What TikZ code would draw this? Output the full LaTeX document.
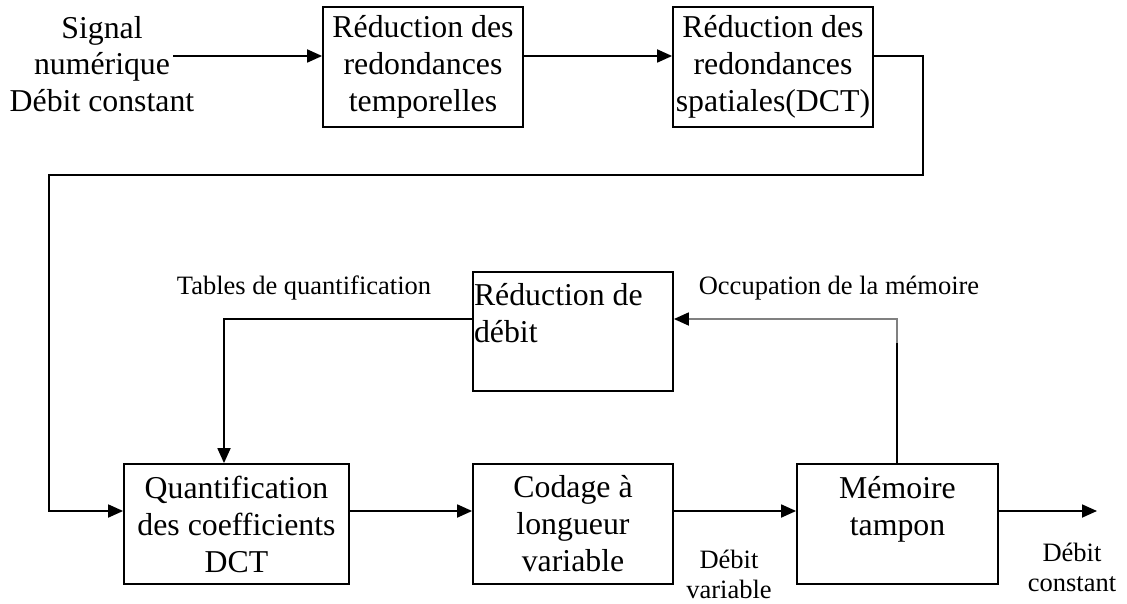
\documentclass[tikz,border=0pt]{standalone}
\usepackage{fontspec}
\setmainfont{Liberation Serif}
\usetikzlibrary{arrows.meta,calc}
\tikzset{
  blk/.style={draw, line width=1.8pt, align=center, inner sep=1pt,
    minimum width=200pt, minimum height=120pt,
    font=\fontsize{31.8}{37}\selectfont},
  txt/.style={align=center, inner sep=0pt, font=\fontsize{31.8}{36.5}\selectfont},
  lbl/.style={align=center, inner sep=0pt, font=\fontsize{26.5}{30}\selectfont},
  flow/.style={line width=1.8pt, -{Triangle[length=15pt,width=13pt,black]}},
  wire/.style={line width=2pt},
  faint/.style={draw=black!50}
}
\begin{document}
\begin{tikzpicture}[x=1pt,y=-1pt]
\useasboundingbox (0,0) rectangle (1127,604);

% input signal
\node[txt] (sig) at (102,64) {Signal\\numérique\\Débit constant};
\coordinate (sigout) at (173,56);

% upper chain
\node[blk] (tmp) at (423,67) {Réduction des\\redondances\\temporelles};
\node[blk] (spa) at (773,67) {Réduction des\\redondances\\spatiales(DCT)};

% lower chain
\node[blk, minimum width=225pt] (qnt) at (236.5,524)
  {Quantification\\des coefficients\\DCT};
\node[blk] (vlc) at (573,524) {Codage à\\longueur\\variable};
\node[blk, minimum width=201pt] (mem) at (897.5,524) {Mémoire\\tampon\\~};
\node[blk, minimum height=119pt, align=flush left, text width=198pt] (red)
  at (573,331.5) {Réduction de\\débit\\~};

% bends and loose ends
\coordinate (bend1) at (923,175);
\coordinate (bend2) at (49,175);
\coordinate (out) at (1097,511);
\coordinate (memtop) at ([xshift=-0.5pt]mem.north);
\coordinate (occ) at ([yshift=120pt]memtop);

% connectors
\draw[flow] (sigout) -- ([yshift=11pt]tmp.west);
\draw[flow] ([yshift=11pt]tmp.east) -- ([yshift=11pt]spa.west);
\draw[flow] ([yshift=11pt]spa.east) -| (bend1) -- (bend2) |- ([yshift=13pt]qnt.west);
\draw[flow] ([yshift=13pt]qnt.east) -- ([yshift=13pt]vlc.west);
\draw[flow] ([yshift=13pt]vlc.east) -- ([yshift=13pt]mem.west);
\draw[flow] ([yshift=13pt]mem.east) -- (out);
\draw[flow] ([yshift=12.5pt]red.west) -| ([xshift=-12.5pt]qnt.north);
\draw[wire] (memtop) -- (occ);
\draw[flow, faint] (occ) |- ([yshift=12.5pt]red.east);

% labels
\node[lbl] at (304,288) {Tables de quantification};
\node[lbl] at (839,288) {Occupation de la mémoire};
\node[lbl] at (729,574) {Débit\\variable};
\node[lbl] at (1072,567) {Débit\\constant};
\end{tikzpicture}
\end{document}
